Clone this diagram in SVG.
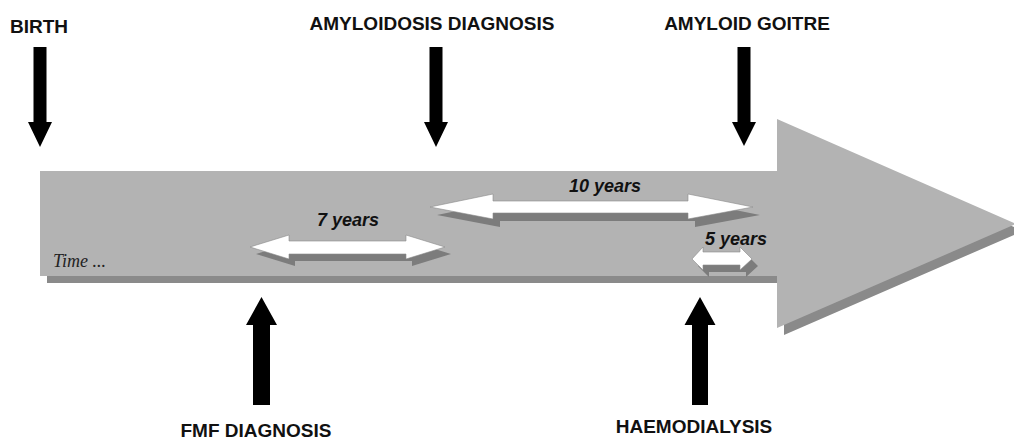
<svg xmlns="http://www.w3.org/2000/svg" width="1014" height="441" viewBox="0 0 1014 441">
<style>
.lbl{font-family:"Liberation Sans",Arial,sans-serif;font-weight:bold;font-size:19px;fill:#111;text-anchor:middle}
.yrs{font-family:"Liberation Sans",Arial,sans-serif;font-weight:bold;font-style:italic;font-size:18px;fill:#111;text-anchor:middle}
.time{font-family:"Liberation Serif","Times New Roman",serif;font-style:italic;font-size:18px;fill:#222}
.blk{fill:#000}
.band{fill:#b3b3b3}
.bandsh{fill:#8a8a8a}
.span{fill:#fff;stroke:#8a8a8a;stroke-width:0.6}
.spansh{fill:#7c7c7c}
</style>
<rect width="1014" height="441" fill="#fff"/>
<g id="timeline">
  <polygon class="bandsh" transform="translate(7,7)" points="40,171 777,171 777,119 1016,224 777,328 777,276 40,276"/>
  <polygon class="band" points="40,171 777,171 777,119 1016,224 777,328 777,276 40,276"/>
  <text class="time" x="53" y="267">Time ...</text>
</g>
<g id="connectors">
  <g id="span-7">
    <polygon class="spansh" transform="translate(6,7)" points="250,247 289,235 289,241 406,241 406,235 445,247 406,259 406,254 289,254 289,259"/>
    <polygon class="span" points="250,247 289,235 289,241 406,241 406,235 445,247 406,259 406,254 289,254 289,259"/>
    <text class="yrs" x="348" y="226">7 years</text>
  </g>
  <g id="span-10">
    <polygon class="spansh" transform="translate(7,8)" points="430,207 493,194 493,201 688,201 688,194 753,207 688,219 688,213 493,213 493,219"/>
    <polygon class="span" points="430,207 493,194 493,201 688,201 688,194 753,207 688,219 688,213 493,213 493,219"/>
    <text class="yrs" x="605" y="192">10 years</text>
  </g>
  <g id="span-5">
    <polygon class="spansh" transform="translate(6,7)" points="692,259 703,247 703,252 740,252 740,247 752,259 740,270 740,265 703,265 703,270"/>
    <polygon class="span" points="692,259 703,247 703,252 740,252 740,247 752,259 740,270 740,265 703,265 703,270"/>
    <text class="yrs" x="736" y="245">5 years</text>
  </g>
</g>
<g id="birth">
  <text class="lbl" x="39" y="33">BIRTH</text>
  <polygon class="blk" points="33.5,47 46.5,47 46.5,122 52,122 40,147 28,122 33.5,122"/>
</g>
<g id="amyloidosis-diagnosis">
  <text class="lbl" x="432" y="30">AMYLOIDOSIS DIAGNOSIS</text>
  <polygon class="blk" points="429.5,47 442.5,47 442.5,122 448,122 436,147 424,122 429.5,122"/>
</g>
<g id="amyloid-goitre">
  <text class="lbl" x="747" y="30">AMYLOID GOITRE</text>
  <polygon class="blk" points="737.5,47 750.5,47 750.5,122 756,122 744,146 732,122 737.5,122"/>
</g>
<g id="fmf-diagnosis">
  <polygon class="blk" points="253,405 270,405 270,325 277,325 261.5,297 246,325 253,325"/>
  <text class="lbl" x="256" y="437">FMF DIAGNOSIS</text>
</g>
<g id="haemodialysis">
  <polygon class="blk" points="692,405 708,405 708,325 715.5,325 700,297 684.5,325 692,325"/>
  <text class="lbl" x="694" y="433">HAEMODIALYSIS</text>
</g>
</svg>
